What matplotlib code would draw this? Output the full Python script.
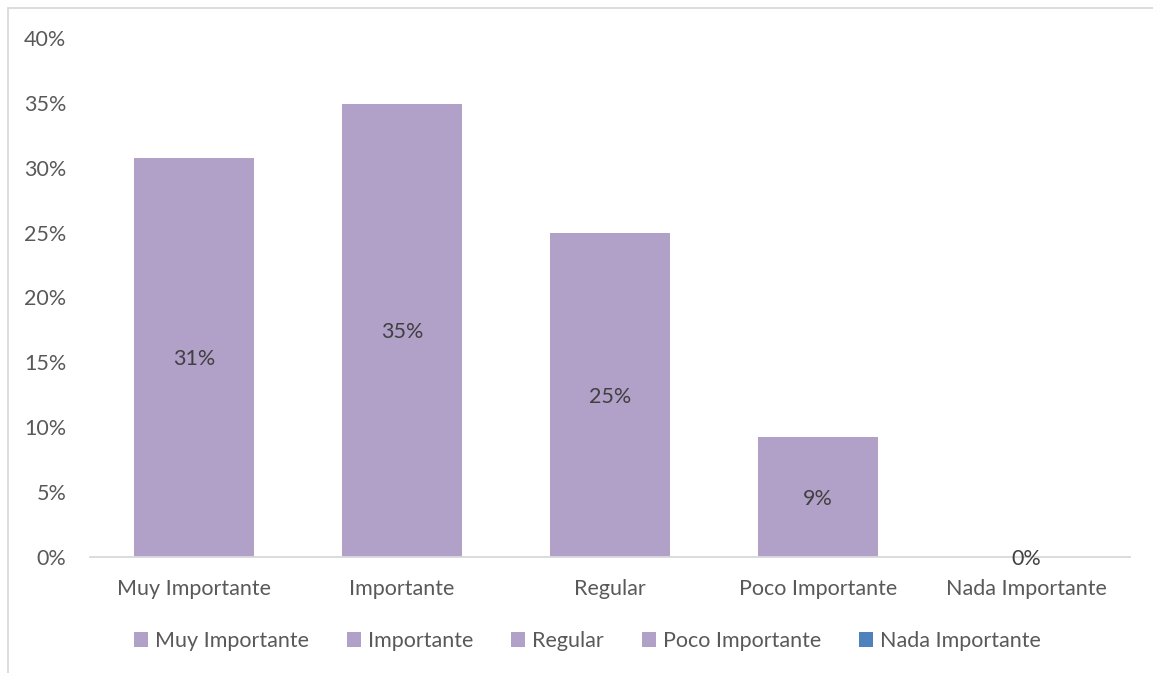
import matplotlib
matplotlib.use("Agg")
import matplotlib.pyplot as plt
from matplotlib.patches import Patch, Rectangle
from matplotlib.ticker import PercentFormatter, MultipleLocator

categories = ["Muy Importante", "Importante", "Regular", "Poco Importante", "Nada Importante"]
values = [0.3077, 0.3494, 0.2500, 0.0925, 0.0]
legend_colors = ["#B1A0C7", "#B1A0C7", "#B1A0C7", "#B1A0C7", "#4F81BD"]

bar_color = "#B1A0C7"
text_color = "#595959"
axis_color = "#D9D9D9"
fs = 15.5

plt.rcParams["font.family"] = ["Lato", "DejaVu Sans"]

W, H = 1153, 673
fig = plt.figure(figsize=(W / 100, H / 100), dpi=100)

# chart-area border (only left and top edges fall inside the canvas)
fig.patches.append(Rectangle((8 / W, -0.1), 1.2, (H - 8) / H + 0.1,
                             transform=fig.transFigure, fill=False,
                             edgecolor=axis_color, linewidth=1.3))

ax = fig.add_axes([90 / W, 1 - 557 / H, (1130 - 90) / W, (557 - 38) / H])
x = range(len(categories))
ax.bar(x, values, width=0.577, color=bar_color)
ax.set_xlim(-0.5, len(categories) - 0.5)
ax.set_ylim(0, 0.40)
ax.yaxis.set_major_locator(MultipleLocator(0.05))
ax.yaxis.set_major_formatter(PercentFormatter(1.0, decimals=0))
ax.set_xticks(list(x))
ax.set_xticklabels(categories)

for s in ["top", "right", "left"]:
    ax.spines[s].set_visible(False)
ax.spines["bottom"].set_color(axis_color)
ax.spines["bottom"].set_linewidth(1.3)
ax.tick_params(axis="both", length=0, labelsize=fs, colors=text_color)
ax.tick_params(axis="y", pad=17)
ax.tick_params(axis="x", pad=16)

for xi, v in zip(x, values):
    ax.text(xi, v / 2, f"{v:.0%}", ha="center", va="center_baseline",
            fontsize=fs, color="#404040")

handles = [Patch(facecolor=c, edgecolor="none") for c in legend_colors]
fig.legend(handles, categories, loc="center", ncol=5,
           bbox_to_anchor=(587.5 / W, 1 - 641 / H), frameon=False,
           fontsize=fs, labelcolor=text_color, handlelength=0.65,
           handleheight=0.65, handletextpad=0.33, columnspacing=1.75)

fig.savefig("out.png", dpi=100, facecolor="white")
